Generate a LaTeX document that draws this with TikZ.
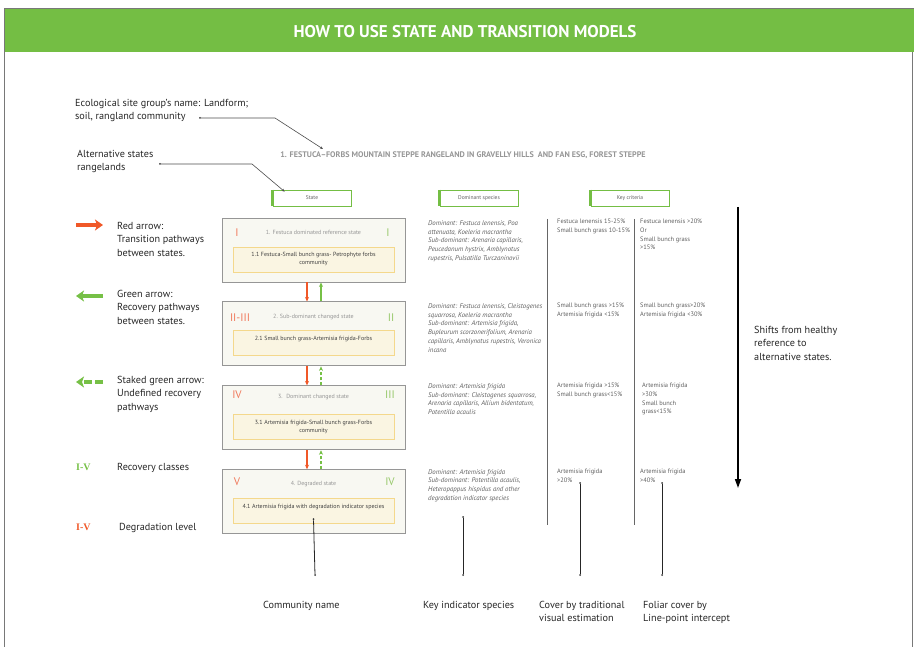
\documentclass[tikz,border=0pt]{standalone}
\usepackage{fontspec}
\setmainfont{PT Sans}
\newfontfamily\numfont{Liberation Serif}
\usetikzlibrary{positioning,arrows.meta}
\definecolor{barGreen}{RGB}{116,190,68}
\definecolor{arrRed}{RGB}{240,88,40}
\definecolor{arrGreen}{RGB}{118,192,70}
\definecolor{numRed}{RGB}{240,120,90}
\definecolor{numGreen}{RGB}{150,200,105}
\definecolor{boxGray}{RGB}{150,150,150}
\definecolor{boxFill}{RGB}{248,248,242}
\definecolor{commLine}{RGB}{244,216,140}
\definecolor{commFill}{RGB}{250,245,226}
\definecolor{txtGray}{RGB}{95,95,95}
\definecolor{frameGray}{RGB}{120,120,120}
\begin{document}
\begin{tikzpicture}[x=1pt,y=-1pt,
statebox/.style={draw=boxGray,line width=0.9pt,fill=boxFill,minimum width=183pt,minimum height=64pt,inner sep=0pt},
commbox/.style={draw=commLine,line width=0.9pt,fill=commFill,minimum width=161pt,minimum height=25pt,inner sep=0pt},
statetitle/.style={inner sep=0pt,font=\fontsize{6}{7}\selectfont,text=boxGray},
commtext/.style={anchor=north,inner sep=0pt,align=center,font=\fontsize{6}{8.3}\selectfont,text=black!75},
rednum/.style={inner sep=0pt,font=\fontsize{11}{12}\selectfont,text=numRed},
greennum/.style={inner sep=0pt,font=\fontsize{11}{12}\selectfont,text=numGreen},
headbox/.style={draw=barGreen,line width=0.6pt,fill=white,minimum width=78pt,minimum height=16pt,inner sep=0pt,font=\fontsize{5.5}{6}\selectfont,text=txtGray},
species/.style={anchor=north west,inner sep=0pt,align=left,font=\fontsize{6.8}{8.7}\selectfont\itshape,text=txtGray},
crit/.style={anchor=north west,inner sep=0pt,align=left,font=\fontsize{6.4}{8.7}\selectfont,text=txtGray},
legend/.style={anchor=north west,inner sep=0pt,align=left,font=\fontsize{10.2}{13.5}\selectfont,text=black!85},
dot/.style={circle,fill=black!80,inner sep=0pt,minimum size=2pt},
leader/.style={draw=black!70,line width=0.6pt},
redarr/.style={draw=arrRed,line width=1.1pt,-{Stealth[length=4.5pt,width=4pt]}},
greenarr/.style={draw=arrGreen,line width=1.1pt,-{Stealth[length=4.5pt,width=4pt]}},
bigred/.style={draw=arrRed,line width=3.5pt,-{Stealth[length=8pt,width=11pt,inset=2pt]}},
biggreen/.style={draw=arrGreen,line width=3.5pt,-{Stealth[length=8pt,width=11pt,inset=2pt]}}]
\useasboundingbox (0,0) rectangle (914,647);

% frame and title bar
\fill[barGreen] (4,9) rectangle (914,52);
\draw[frameGray,line width=0.8pt] (4,647) -- (4,8) -- (914,8);
\draw[frameGray,line width=0.6pt] (912,52) -- (912,647);
\node[text=white,font=\fontsize{17}{18}\selectfont\bfseries] (title) at (465,32) {HOW TO USE STATE AND TRANSITION MODELS};

% site group name
\node[inner sep=0pt,font=\fontsize{8.1}{9}\selectfont\bfseries,text=boxGray] (esg) at (463,155)
  {1. FESTUCA--FORBS MOUNTAIN STEPPE RANGELAND IN GRAVELLY HILLS~ AND FAN ESG, FOREST STEPPE};
\node[legend] (lesg) at (75,99) {Ecological site group's name: Landform;\\soil, rangland community};
\node[legend] (lalt) at (77,150) {Alternative states\\rangelands};

% column heads
\node[headbox] (hstate) at (312,198) {State};
\node[headbox] (hspecies) at (479,198) {Dominant species};
\node[headbox] (hcrit) at (630,198) {Key criteria};
\foreach \h in {hstate,hspecies,hcrit}
  \draw[barGreen,line width=2.5pt] (\h.north west) -- (\h.south west);

% leaders at the top
\node[dot] (esgD) at (200,118) {};
\coordinate (esgK) at (275,118);
\coordinate (esgE) at (323,149);
\draw[leader,-{Stealth[length=3pt,width=2.5pt]}] (esgD) -- (esgK) -- (esgE);
\node[dot] (altD) at (160,164) {};
\coordinate (altK) at (252,164);
\draw[leader,-{Stealth[length=3pt,width=2.5pt]}] (altD) -- (altK) -- ([xshift=12pt,yshift=-2pt]hstate.north west);

% states
\node[statebox] (s1) at (313.5,250) {};
\node[statebox,below=19pt of s1] (s2) {};
\node[statebox,below=19pt of s2] (s3) {};
\node[statebox,below=19pt of s3] (s4) {};
\foreach \s in {s1,s2,s3,s4}
  \node[commbox] (c\s) at ([yshift=-9.5pt]\s.center) {};

\node[statetitle] (t1) at ([yshift=-14.5pt]s1.north) {1. Festuca dominated reference state};
\node[statetitle] (t2) at ([yshift=-16pt]s2.north) {2. Sub-dominant changed state};
\node[statetitle] (t3) at ([yshift=-12pt]s3.north) {3.~ Dominant changed state};
\node[statetitle] (t4) at ([yshift=-15pt]s4.north) {4. Degraded state};

\node[rednum] (r1) at (237,233) {I};
\node[rednum] (r2) at (240,318) {II-III};
\node[rednum] (r3) at (237,395) {IV};
\node[rednum] (r4) at (237,482) {V};
\node[greennum] (g1) at (388,233) {I};
\node[greennum] (g2) at (391,318) {II};
\node[greennum] (g3) at (390,395) {III};
\node[greennum] (g4) at (390,482) {IV};

\node[commtext] (ct1) at ([yshift=-5.5pt]cs1.north) {1.1 Festuca-Small bunch grass- Petrophyte forbs\\community};
\node[commtext] (ct2) at ([yshift=-5.5pt]cs2.north) {2.1 Small bunch grass-Artemisia frigida-Forbs};
\node[commtext] (ct3) at ([yshift=-5.5pt]cs3.north) {3.1 Artemisia frigida-Small bunch grass-Forbs\\community};
\node[commtext] (ct4) at ([yshift=-5.5pt]cs4.north) {4.1 Artemisia frigida with degradation indicator species};

% pathways between states
\foreach \a/\b in {s1/s2,s2/s3,s3/s4}
  \draw[redarr] ([xshift=-6.5pt]\a.south) -- ([xshift=-6.5pt]\b.north);
\draw[greenarr] ([xshift=7.5pt]s2.north) -- ([xshift=7.5pt]s1.south);
\draw[greenarr,dash pattern=on 3pt off 2pt] ([xshift=7.5pt]s3.north) -- ([xshift=7.5pt]s2.south);
\draw[greenarr,dash pattern=on 3pt off 2pt] ([xshift=7.5pt]s4.north) -- ([xshift=7.5pt]s3.south);

% dominant species
\node[species] (d1) at (428,220.5) {Dominant: Festuca lenensis, Poa\\attenuata, Koeleria macrantha\\Sub-dominant: Arenaria capillaris,\\Peucedanum hystrix, Amblynotus\\rupestris, Pulsatilla Turczaninovii};
\node[species] (d2) at (428,303.5) {Dominant: Festuca lenensis, Cleistogenes\\squarrosa, Koeleria macrantha\\Sub-dominant: Artemisia frigida,\\Bupleurum scorzonerifolium, Arenaria\\capillaris, Amblynotus rupestris, Veronica\\incana};
\node[species] (d3) at (428,383.5) {Dominant: Artemisia frigida\\Sub-dominant: Cleistogenes squarrosa,\\Arenaria capillaris, Allium bidentatum,\\Potentilla acaulis};
\node[species] (d4) at (428,469) {Dominant: Artemisia frigida\\Sub-dominant: Potentilla acaulis,\\Heteropappus hispidus and other\\degradation indicator species};

% key criteria
\coordinate (v1t) at (547,219);
\coordinate (v1b) at (547,525);
\coordinate (v2t) at (634,219);
\coordinate (v2b) at (634,525);
\draw[black!60,line width=0.8pt] (v1t) -- (v1b);
\draw[black!60,line width=0.8pt] (v2t) -- (v2b);
\node[crit] (k11) at (557,219) {Festuca lenensis 15-25\%\\Small bunch grass 10-15\%};
\node[crit] (k12) at (557,303) {Small bunch grass >15\%\\Artemisia frigida <15\%};
\node[crit] (k13) at (557,383) {Artemisia frigida >15\%\\Small bunch grass<15\%};
\node[crit] (k14) at (557,469) {Artemisia frigida\\>20\%};
\node[crit] (k21) at (640,219) {Festuca lenensis >20\%\\Or\\Small bunch grass\\>15\%};
\node[crit] (k22) at (640,303) {Small bunch grass>20\%\\Artemisia frigida <30\%};
\node[crit] (k23) at (642,383) {Artemisia frigida\\>30\%\\Small bunch\\grass<15\%};
\node[crit] (k24) at (640,469) {Artemisia frigida\\>40\%};

% shift arrow
\coordinate (shTop) at (738,207);
\coordinate (shBot) at (738,488);
\draw[black,line width=1.6pt,-{Triangle[length=9pt,width=6pt]}] (shTop) -- (shBot);
\node[legend] (lshift) at (754,326) {Shifts from healthy\\reference to\\alternative states.};

% legend
\coordinate (redA) at (76,225);
\coordinate (redB) at (103,225);
\draw[bigred] (redA) -- (redB);
\node[legend] (lred) at (117,222) {Red arrow:\\Transition pathways\\between states.};
\coordinate (grnA) at (103,296);
\coordinate (grnB) at (76,296);
\draw[biggreen] (grnA) -- (grnB);
\node[legend] (lgreen) at (117,290) {Green arrow:\\Recovery pathways\\between states.};
\coordinate (stkA) at (103,382);
\coordinate (stkB) at (76,382);
\draw[biggreen,dash pattern=on 8pt off 3pt] (stkA) -- (stkB);
\node[legend] (lstaked) at (117,376) {Staked green arrow:\\Undefined recovery\\pathways};
\node[anchor=base west,inner sep=0pt,font=\numfont\bfseries\fontsize{10}{12}\selectfont,text=arrGreen] (iv1) at (76,470) {I-V};
\node[legend,anchor=base west] (lrec) at (117,470) {Recovery classes};
\node[anchor=base west,inner sep=0pt,font=\numfont\bfseries\fontsize{10}{12}\selectfont,text=arrRed] (iv2) at (76,530) {I-V};
\node[legend,anchor=base west] (ldeg) at (119,530) {Degradation level};

% bottom leaders
\node[dot] (cnT) at ([yshift=-8pt]cs4.center) {};
\node[dot] (cnB) at (315,575) {};
\node[dot] (kiT) at (463,517) {};
\node[dot] (kiB) at (463,575) {};
\node[dot] (cvT) at (580,483) {};
\node[dot] (cvB) at (580,575) {};
\node[dot] (fcT) at (662,483) {};
\node[dot] (fcB) at (662,575) {};
\foreach \a/\b in {cnT/cnB,kiT/kiB,cvT/cvB,fcT/fcB}
  \draw[black!85,line width=0.8pt] (\a) -- (\b);
\node[legend,anchor=base west] (lcomm) at (263,608) {Community name};
\node[legend,anchor=base west] (lkey) at (423,608) {Key indicator species};
\node[legend] (lcover) at (539,601) {Cover by traditional\\visual estimation};
\node[legend] (lfoliar) at (643,601) {Foliar cover by\\Line-point intercept};
\end{tikzpicture}
\end{document}
